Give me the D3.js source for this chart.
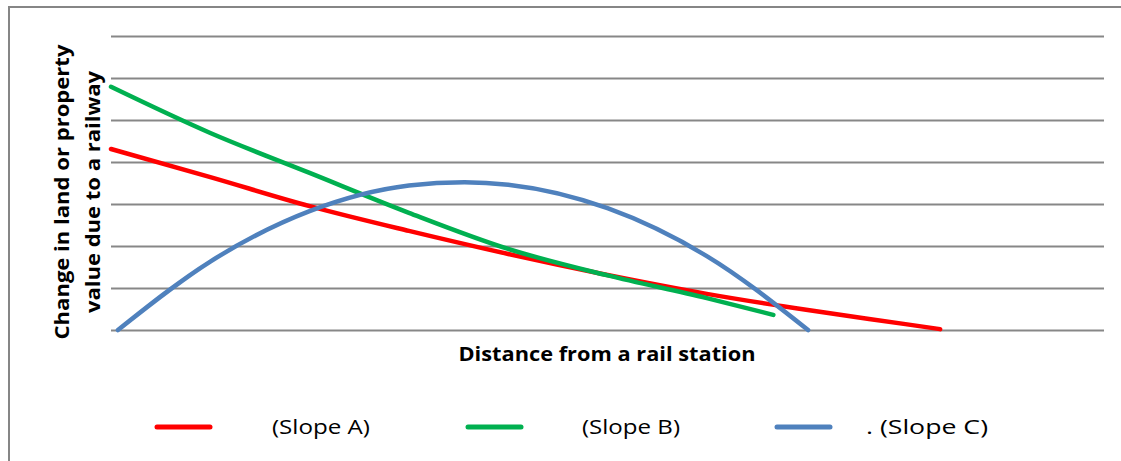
<!DOCTYPE html>
<html>
<head>
<meta charset="utf-8">
<script src="https://cdn.jsdelivr.net/npm/d3@7/dist/d3.min.js"></script>
<style>
  html, body { margin: 0; padding: 0; background: #fff; }
  svg { display: block; }
  text { font-family: "Open Sans", "Liberation Sans", sans-serif; }
</style>
</head>
<body>
<svg id="chart" width="1121" height="461"></svg>
<script>
// ---- Data ----
const yTicks = [0, 1, 2, 3, 4, 5, 6, 7];

const slopeAx = [0, 10, 20, 30, 40, 50, 60, 70, 80, 83.5];
const slopeAy = [4.31, 3.64, 2.95, 2.36, 1.81, 1.31, 0.86, 0.48, 0.14, 0.02];

const slopeBx = [0, 10, 20, 30, 40, 50, 60, 66.7];
const slopeBy = [5.79, 4.69, 3.74, 2.79, 1.93, 1.30, 0.76, 0.36];

const slopeCx = [0.7, 10, 20, 30, 35.6, 40, 50, 60, 70.2];
const slopeCy = [0, 1.63, 2.83, 3.44, 3.52, 3.46, 2.90, 1.76, 0];

const seriesNames = ["(Slope A)", "(Slope B)", ". (Slope C)"];
const seriesColors = ["#FF0000", "#00B050", "#4F81BD"];
const yTitleLines = ["Change in land or property", "value due to a railway"];
const xTitle = "Distance from a rail station";

// ---- Layout ----
const svg = d3.select("#chart");
const plot = { left: 111, right: 1104, top: 36, bottom: 330 };

const x = d3.scaleLinear().domain([0, 100]).range([plot.left, plot.right]);
const y = d3.scaleLinear().domain([0, 7]).range([plot.bottom, plot.top]);

// outer border (only left/top visible within window)
svg.append("rect")
  .attr("x", 9).attr("y", 7)
  .attr("width", 1130).attr("height", 470)
  .attr("fill", "none").attr("stroke", "#868686").attr("stroke-width", 2);

// gridlines via axis
const gAxis = svg.append("g")
  .attr("transform", `translate(${plot.left},0)`)
  .call(d3.axisLeft(y).tickValues(yTicks).tickSize(-(plot.right - plot.left)).tickFormat(""));
gAxis.select(".domain").remove();
gAxis.selectAll(".tick line").attr("stroke", "#878787").attr("stroke-width", 2);

// series
const series = [
  { xs: slopeAx, ys: slopeAy },
  { xs: slopeBx, ys: slopeBy },
  { xs: slopeCx, ys: slopeCy }
];

const line = d3.line()
  .x(d => x(d[0]))
  .y(d => y(d[1]))
  .curve(d3.curveMonotoneX);

series.forEach((s, i) => {
  const pts = s.xs.map((v, k) => [v, s.ys[k]]);
  svg.append("path")
    .datum(pts)
    .attr("d", line)
    .attr("fill", "none")
    .attr("stroke", seriesColors[i])
    .attr("stroke-width", 4.5)
    .attr("stroke-linecap", "round")
    .attr("stroke-linejoin", "round");
});

// y title (rotated, two lines)
const yt = svg.append("text")
  .attr("transform", "translate(0,192) rotate(-90)")
  .attr("text-anchor", "middle")
  .attr("font-weight", "bold")
  .attr("font-size", 20)
  .attr("fill", "#000");
yt.append("tspan").attr("x", 0).attr("y", 69)
  .attr("textLength", 295).attr("lengthAdjust", "spacingAndGlyphs").text(yTitleLines[0]);
yt.append("tspan").attr("x", 0).attr("y", 100)
  .attr("textLength", 242).attr("lengthAdjust", "spacingAndGlyphs").text(yTitleLines[1]);

// x title
svg.append("text")
  .attr("x", 607).attr("y", 361)
  .attr("text-anchor", "middle")
  .attr("font-weight", "bold")
  .attr("font-size", 20)
  .attr("textLength", 297).attr("lengthAdjust", "spacingAndGlyphs")
  .attr("fill", "#000")
  .text(xTitle);

// legend
const legendLineX = [157, 468, 777];
const legendTextX = [272, 582, 866];
const legendTextW = [98, 98, 122];
seriesNames.forEach((name, i) => {
  svg.append("line")
    .attr("x1", legendLineX[i]).attr("x2", legendLineX[i] + 53)
    .attr("y1", 427).attr("y2", 427)
    .attr("stroke", seriesColors[i])
    .attr("stroke-width", 5)
    .attr("stroke-linecap", "round");
  svg.append("text")
    .attr("x", legendTextX[i]).attr("y", 434)
    .attr("font-size", 20)
    .attr("textLength", legendTextW[i]).attr("lengthAdjust", "spacingAndGlyphs")
    .attr("fill", "#000")
    .text(name);
});
</script>
</body>
</html>
